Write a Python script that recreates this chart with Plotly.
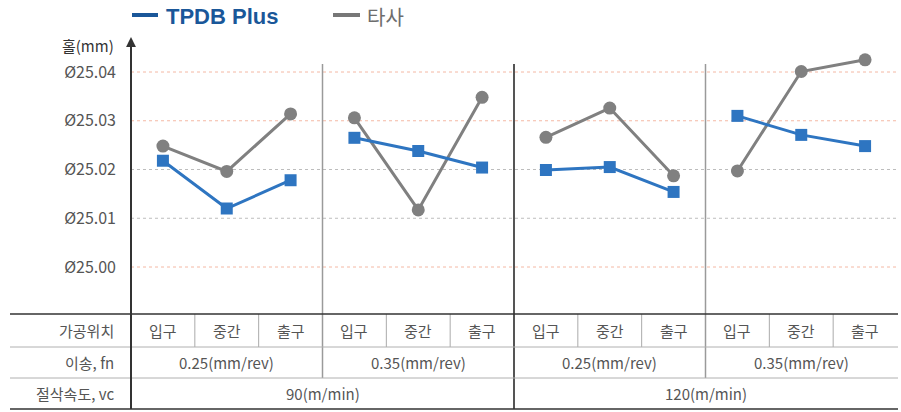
import plotly.graph_objects as go

# ---- data ----
positions = ["입구", "중간", "출구"] * 4
feeds = ["0.25(mm/rev)", "0.35(mm/rev)", "0.25(mm/rev)", "0.35(mm/rev)"]
speeds = ["90(m/min)", "120(m/min)"]
row_labels = ["가공위치", "이송, fn", "절삭속도, vc"]
tpdb = [25.0218, 25.0120, 25.0178, 25.0265, 25.0238, 25.0204,
        25.0199, 25.0205, 25.0154, 25.0310, 25.0271, 25.0248]
other = [25.0248, 25.0196, 25.0314, 25.0306, 25.0117, 25.0348,
         25.0266, 25.0326, 25.0187, 25.0197, 25.0401, 25.0425]
ytick_vals = [25.00, 25.01, 25.02, 25.03, 25.04]
ytick_text = ["Ø25.00", "Ø25.01", "Ø25.02", "Ø25.03", "Ø25.04"]
series_names = ["TPDB Plus", "타사"]

BLUE = "#2e75c1"
GRAY = "#808080"
TXT = "#555555"
KR = "Noto Sans CJK KR"

W, H = 901, 412
ML, MR, MT, MB = 131, 4, 40, 98
PH = H - MT - MB
PW = W - ML - MR


def py(pix):
    """pixel row -> paper y"""
    return (H - MB - pix) / PH


def px(pix):
    """pixel column -> paper x"""
    return (pix - ML) / PW


def gapped(vals):
    xs, ys = [], []
    for i, v in enumerate(vals):
        xs.append(i)
        ys.append(v)
        if i % 3 == 2:
            xs.append(None)
            ys.append(None)
    return xs, ys


fig = go.Figure()
xb, yb = gapped(tpdb)
xo, yo = gapped(other)
fig.add_trace(go.Scatter(x=xo, y=yo, mode="lines+markers", showlegend=False, name=series_names[1],
                         line=dict(color=GRAY, width=3),
                         marker=dict(symbol="circle", size=13, color=GRAY)))
fig.add_trace(go.Scatter(x=xb, y=yb, mode="lines+markers", showlegend=False, name=series_names[0],
                         line=dict(color=BLUE, width=3),
                         marker=dict(symbol="square", size=12, color=BLUE)))

shapes = []
# grid lines
grid_colors = {25.00: "#f4b8a4", 25.01: "#bdbdbd", 25.02: "#bdbdbd", 25.03: "#f4b8a4", 25.04: "#f4b8a4"}
for v in ytick_vals:
    shapes.append(dict(type="line", xref="paper", yref="y", x0=0, x1=1, y0=v, y1=v,
                       line=dict(color=grid_colors[v], width=1, dash="3px,3px"), layer="below"))

# panel separators
for xs, col, wd, bottom in [(2.5, "#9a9a9a", 1.5, 378), (5.5, "#555555", 2, 409), (8.5, "#9a9a9a", 1.5, 378)]:
    shapes.append(dict(type="line", xref="x", yref="paper", x0=xs, x1=xs, y0=py(64), y1=py(bottom),
                       line=dict(color=col, width=wd), layer="below"))
# column separators row 1
for xs in [0.5, 1.5, 3.5, 4.5, 6.5, 7.5, 9.5, 10.5]:
    shapes.append(dict(type="line", xref="x", yref="paper", x0=xs, x1=xs, y0=py(314), y1=py(347),
                       line=dict(color="#aaaaaa", width=1)))
# table horizontal lines
for pix, col, wd in [(314, "#333333", 1.5), (347, "#b0b0b0", 1), (378, "#b0b0b0", 1), (409, "#333333", 1.5)]:
    shapes.append(dict(type="line", xref="paper", yref="paper", x0=px(10), x1=px(898), y0=py(pix), y1=py(pix),
                       line=dict(color=col, width=wd)))
# y axis line
shapes.append(dict(type="line", xref="paper", yref="paper", x0=0, x1=0, y0=py(409), y1=py(46),
                   line=dict(color="#333333", width=2)))
# legend keys
shapes.append(dict(type="line", xref="paper", yref="paper", x0=px(132), x1=px(158), y0=py(15), y1=py(15),
                   line=dict(color="#1a5799", width=4)))
shapes.append(dict(type="line", xref="paper", yref="paper", x0=px(333), x1=px(360), y0=py(15), y1=py(15),
                   line=dict(color="#777777", width=4)))

annotations = []
# legend texts
annotations.append(dict(xref="paper", yref="paper", x=px(164), y=py(16), xanchor="left", yanchor="middle",
                        text="<b>" + series_names[0] + "</b>", showarrow=False,
                        font=dict(family="Liberation Sans", size=22, color="#1a5799")))
annotations.append(dict(xref="paper", yref="paper", x=px(365), y=py(16), xanchor="left", yanchor="middle",
                        text=series_names[1], showarrow=False,
                        font=dict(family=KR, size=20, color="#6d6d6d")))
# arrow head
annotations.append(dict(xref="paper", yref="paper", x=0, y=py(37), ax=0, ay=18, text="",
                        showarrow=True, arrowhead=2, arrowsize=1.1, arrowwidth=1.8, arrowcolor="#333333"))
# y axis title
annotations.append(dict(xref="paper", yref="paper", x=px(116), y=py(46), xanchor="right",
                        yanchor="middle", text="홀(mm)", showarrow=False,
                        font=dict(family=KR, size=15, color="#333333")))
# row labels
row_centers = [330.5, 362.5, 393.5]
for lab, rc in zip(row_labels, row_centers):
    annotations.append(dict(xref="paper", yref="paper", x=px(116), y=py(rc),
                            xanchor="right", yanchor="middle", text=lab, showarrow=False,
                            font=dict(family=KR, size=15, color=TXT)))
for i, p in enumerate(positions):
    annotations.append(dict(xref="x", yref="paper", x=i, y=py(row_centers[0]), xanchor="center",
                            yanchor="middle", text=p, showarrow=False,
                            font=dict(family=KR, size=15, color=TXT)))
for k, f in enumerate(feeds):
    annotations.append(dict(xref="x", yref="paper", x=3 * k + 1, y=py(row_centers[1]), xanchor="center",
                            yanchor="middle", text=f, showarrow=False,
                            font=dict(family=KR, size=15, color=TXT)))
for k, s in enumerate(speeds):
    annotations.append(dict(xref="x", yref="paper", x=6 * k + 2.5, y=py(row_centers[2]), xanchor="center",
                            yanchor="middle", text=s, showarrow=False,
                            font=dict(family=KR, size=15, color=TXT)))

fig.update_layout(
    width=W, height=H,
    margin=dict(l=ML, r=MR, t=MT, b=MB),
    paper_bgcolor="white", plot_bgcolor="white",
    xaxis=dict(range=[-0.5, 11.5], showgrid=False, zeroline=False, showticklabels=False, showline=False),
    yaxis=dict(range=[24.99036, 25.046564], tickvals=ytick_vals, ticktext=ytick_text,
               showgrid=False, zeroline=False, showline=False, ticks="",
               ticklabelstandoff=14,
               tickfont=dict(family=KR, size=16, color=TXT)),
    shapes=shapes,
    annotations=annotations,
    showlegend=False,
)

fig.write_html("out.html", config={"displayModeBar": False},
               post_script="document.body.style.margin='0';document.body.style.padding='0';")
